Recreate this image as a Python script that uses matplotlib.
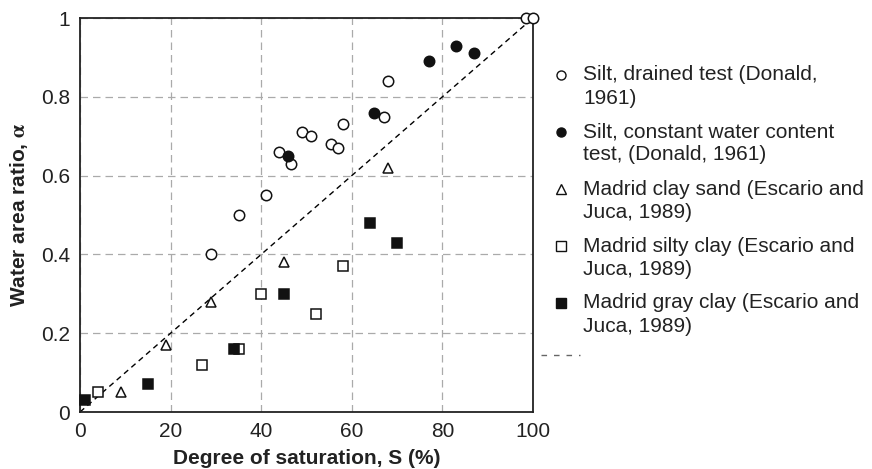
import matplotlib
matplotlib.use("Agg")
import matplotlib.pyplot as plt
from matplotlib.lines import Line2D

plt.rcParams['font.family'] = ['Liberation Sans', 'DejaVu Sans']
plt.rcParams['mathtext.fontset'] = 'stix'

# Silt, drained test (Donald, 1961)
drained_S = [29, 35, 41, 44, 46.5, 49, 51, 55.5, 57, 58, 67, 68, 98.5, 100]
drained_a = [0.40, 0.50, 0.55, 0.66, 0.63, 0.71, 0.70, 0.68, 0.67, 0.73, 0.75, 0.84, 1.0, 1.0]
# Silt, constant water content test
const_S = [46, 65, 77, 83, 87]
const_a = [0.65, 0.76, 0.89, 0.93, 0.91]
# Madrid clay sand
sand_S = [9, 19, 29, 45, 68]
sand_a = [0.05, 0.17, 0.28, 0.38, 0.62]
# Madrid silty clay
silty_S = [4, 27, 35, 40, 52, 58]
silty_a = [0.05, 0.12, 0.16, 0.30, 0.25, 0.37]
# Madrid gray clay
gray_S = [1, 15, 34, 45, 64, 70]
gray_a = [0.03, 0.07, 0.16, 0.30, 0.48, 0.43]

labels = [
    ["Silt, drained test (Donald,", "1961)"],
    ["Silt, constant water content", "test, (Donald, 1961)"],
    ["Madrid clay sand (Escario and", "Juca, 1989)"],
    ["Madrid silty clay (Escario and", "Juca, 1989)"],
    ["Madrid gray clay (Escario and", "Juca, 1989)"],
]

x_ticks = [0, 20, 40, 60, 80, 100]
y_ticks = [0, 0.2, 0.4, 0.6, 0.8, 1.0]
y_ticklabels = ["0", "0.2", "0.4", "0.6", "0.8", "1"]

W, H = 872, 469
fig = plt.figure(figsize=(W / 100, H / 100), dpi=100)
ax = fig.add_axes([80 / W, 1 - 412 / H, 453 / W, 394 / H])

series = [
    (drained_S, drained_a, dict(marker='o', mfc='white')),
    (const_S, const_a, dict(marker='o', mfc='#111111')),
    (sand_S, sand_a, dict(marker='^', mfc='white')),
    (silty_S, silty_a, dict(marker='s', mfc='white')),
    (gray_S, gray_a, dict(marker='s', mfc='#111111')),
]

# 1:1 line
ax.plot([0, 100], [0, 1], color='black', lw=1, linestyle=(0, (4, 3)), zorder=2)

for xs, ys, st in series:
    ax.plot(xs, ys, linestyle='none', mec='#111111', mew=1.1, markersize=7.5,
            clip_on=False, zorder=3, **st)

ax.set_xlim(0, 100)
ax.set_ylim(0, 1)
ax.set_xticks(x_ticks)
ax.set_yticks(y_ticks)
ax.set_yticklabels(y_ticklabels)
ax.tick_params(length=0, labelsize=15, pad=7, colors='#222222')
ax.grid(True, color='#aaaaaa', lw=0.9, linestyle=(0, (6, 4)))
for sp in ax.spines.values():
    sp.set_linewidth(1.3)
    sp.set_color('#222222')

ax.set_xlabel("Degree of saturation, S (%)", fontsize=15, fontweight='bold',
              labelpad=6, color='#222222')
ax.set_ylabel(r"Water area ratio, $\mathbf{\alpha}$", fontsize=15, fontweight='bold',
              labelpad=8, color='#222222')

# legend drawn by hand so markers sit on the first text line
y0 = 75
for (xs, ys, st), lab in zip(series, labels):
    fy = 1 - y0 / H
    fig.add_artist(Line2D([561 / W], [fy], transform=fig.transFigure, linestyle='none',
                          mec='#111111', mew=1.0, markersize=6.5, **st))
    fig.text(583 / W, fy, lab[0], fontsize=15, va='center', ha='left', color='#222222')
    fig.text(583 / W, 1 - (y0 + 23) / H, lab[1], fontsize=15, va='center', ha='left',
             color='#222222')
    y0 += 57
fig.add_artist(Line2D([541 / W, 580 / W], [1 - 355 / H] * 2, transform=fig.transFigure,
                      color='#666666', lw=1, linestyle=(0, (4, 5))))

fig.savefig("out.png", dpi=100)
